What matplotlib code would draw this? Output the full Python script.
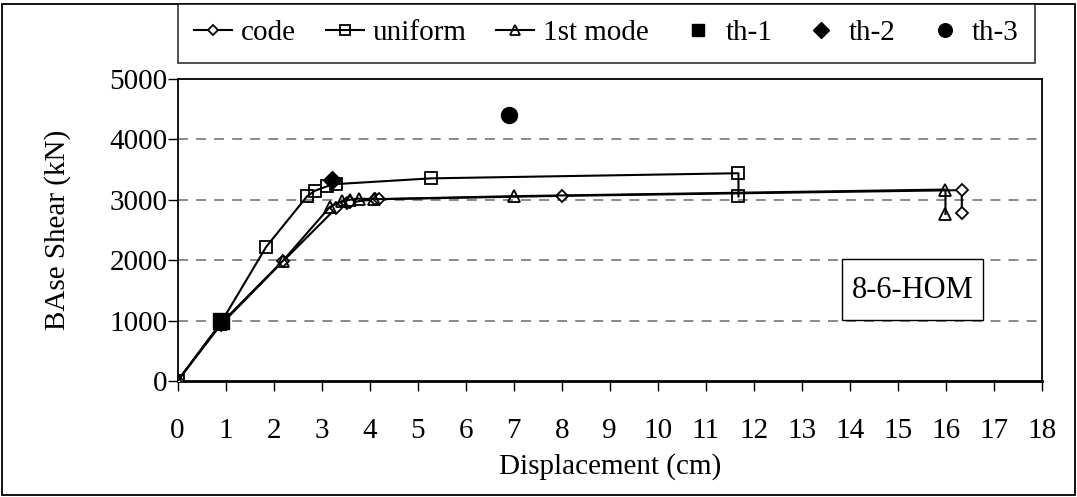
import matplotlib
matplotlib.use("Agg")
import matplotlib.pyplot as plt
from matplotlib.patches import Rectangle

# ---- data ----
uniform_x = [0, 0.9, 1.85, 2.7, 2.86, 3.12, 3.3, 5.28, 11.68, 11.68]
uniform_y = [0, 960, 2225, 3060, 3150, 3225, 3260, 3355, 3440, 3055]
mode_x = [0, 0.9, 2.2, 3.17, 3.42, 3.59, 3.77, 4.1, 7.0, 15.99, 15.99]
mode_y = [0, 950, 1995, 2880, 2975, 3000, 3020, 3010, 3060, 3170, 2765]
code_x = [0, 0.9, 2.2, 3.3, 3.52, 3.6, 4.12, 4.2, 8.0, 16.33, 16.33]
code_y = [0, 930, 1985, 2860, 2945, 2960, 3010, 3010, 3065, 3160, 2775]
th1_x, th1_y = [0.9], [990]
th2_x, th2_y = [3.21], [3335]
th3_x, th3_y = [6.9], [4405]
x_ticks = list(range(0, 19))
y_ticks = [0, 1000, 2000, 3000, 4000, 5000]
label_text = "8-6-HOM"

plt.rcParams['font.family'] = ['Liberation Serif', 'DejaVu Serif']

W, H = 1077, 497
FS = 21
fig = plt.figure(figsize=(W / 100, H / 100), dpi=100)
ax = fig.add_axes([177.5 / W, 1 - 381 / H, (1042 - 177.5) / W, (381 - 79) / H])

lw = 1.5
ax.plot(code_x, code_y, color='black', lw=lw, marker='D', ms=6.5, mfc='white', mec='black', mew=1.3, zorder=3, label='code')
ax.plot(uniform_x, uniform_y, color='black', lw=lw, marker='s', ms=8, mfc='none', mec='black', mew=1.3, zorder=3, label='uniform')
ax.plot(mode_x, mode_y, color='black', lw=lw, marker='^', ms=8.5, mfc='none', mec='black', mew=1.3, zorder=3, label='1st mode')
ax.plot(th1_x, th1_y, ls='none', marker='s', ms=11, color='black', zorder=5, label='th-1')
ax.plot(th2_x, th2_y, ls='none', marker='D', ms=9.5, color='black', zorder=5, label='th-2')
ax.plot(th3_x, th3_y, ls='none', marker='o', ms=11.5, color='black', zorder=5, label='th-3')

ax.set_xlim(0, 18)
ax.set_ylim(0, 5000)
ax.set_xticks(x_ticks)
ax.set_yticks(y_ticks)
ax.tick_params(axis='both', direction='out', length=7, width=1, labelsize=FS, color='black')
ax.tick_params(axis='x', pad=20)
ax.tick_params(axis='y', pad=0)
for y in y_ticks[1:-1]:
    ax.axhline(y, color='#808080', lw=1.3, ls=(0, (5.5, 4.5)), zorder=1)
for s in ['top', 'right', 'left']:
    ax.spines[s].set_linewidth(1.3)
ax.spines['bottom'].set_linewidth(2)

ax.set_xlabel('Displacement (cm)', fontsize=FS, labelpad=6)
ax.set_ylabel('BAse Shear (kN)', fontsize=FS, labelpad=28)

# annotation box
fig.patches.append(Rectangle((842 / W, 1 - 320 / H), (983 - 842) / W, (320 - 259) / H,
                             transform=fig.transFigure, fill=True, fc='white', ec='black', lw=1, zorder=4))
fig.text(912.5 / W, 1 - 291 / H, label_text, fontsize=22, ha='center', va='center', zorder=5)

handles, labels = ax.get_legend_handles_labels()
leg = fig.legend(handles, labels, ncol=6, loc='upper left',
                 bbox_to_anchor=(178 / W, 1 - 4 / H, (1035 - 178) / W, 0),
                 mode='expand', borderaxespad=0, fontsize=FS, frameon=True,
                 fancybox=False, edgecolor='black', handlelength=1.3,
                 handletextpad=0.3, columnspacing=0.5, borderpad=0.55, markerscale=0.85)
leg.get_frame().set_linewidth(1.2)

fig.patches.append(Rectangle((2 / W, 2 / H), (W - 4) / W, (H - 6) / H, transform=fig.transFigure,
                             fill=False, ec='black', lw=1.3))

fig.savefig('out.png', dpi=100)
